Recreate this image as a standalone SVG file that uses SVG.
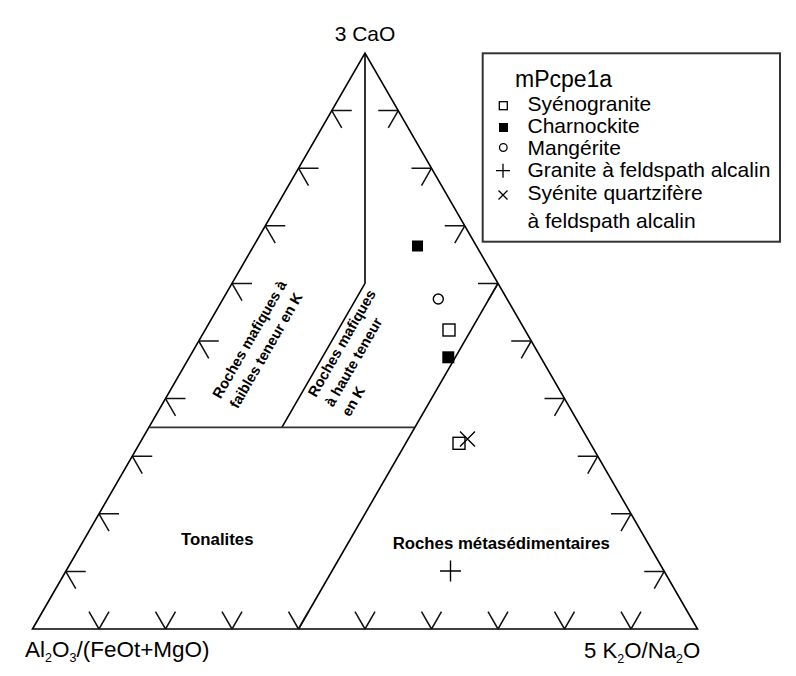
<svg xmlns="http://www.w3.org/2000/svg" xmlns:xlink="http://www.w3.org/1999/xlink" width="796" height="676" viewBox="0 0 796 676">
<style>
.ln{fill:none;stroke:#000;stroke-width:1.6}
.tk{fill:none;stroke:#111;stroke-width:1.5}
.ax{font-family:"Liberation Sans",Arial,sans-serif;font-size:21px;fill:#000}
.lg{font-family:"Liberation Sans",Arial,sans-serif;font-size:21px;fill:#000}
.rg{font-family:"Liberation Sans",Arial,sans-serif;font-weight:bold;font-size:16.8px;fill:#000}
.rr{font-family:"Liberation Sans",Arial,sans-serif;font-weight:bold;font-size:14.6px;fill:#000}
.mk{fill:none;stroke:#000;stroke-width:1.4}
.mf{fill:#000;stroke:none}
</style>
<defs>
<path id="tl" d="M0 0H20M0 0L10 17.32"/>
<path id="tr" d="M0 0H-20M0 0L-10 17.32"/>
<path id="tb" d="M0 0L-10 -17.32M0 0L10 -17.32"/>
</defs>
<rect width="796" height="676" fill="#fff"/>
<g id="connectors">
<path class="ln" d="M32.5 629L365 53L697.5 629Z"/>
<path class="ln" d="M365 53V283.4L281.9 427.4"/>
<path class="ln" d="M148.9 427.4H414.8" style="stroke:#333"/>
<path class="ln" d="M498 283.4L298.5 629"/>
<g class="tk">
<use xlink:href="#tl" x="331.75" y="110.6"/>
<use xlink:href="#tl" x="298.5" y="168.2"/>
<use xlink:href="#tl" x="265.25" y="225.8"/>
<use xlink:href="#tl" x="232" y="283.4"/>
<use xlink:href="#tl" x="198.75" y="341"/>
<use xlink:href="#tl" x="165.5" y="398.6"/>
<use xlink:href="#tl" x="132.25" y="456.2"/>
<use xlink:href="#tl" x="99" y="513.8"/>
<use xlink:href="#tl" x="65.75" y="571.4"/>
<use xlink:href="#tr" x="398.25" y="110.6"/>
<use xlink:href="#tr" x="431.5" y="168.2"/>
<use xlink:href="#tr" x="464.75" y="225.8"/>
<use xlink:href="#tr" x="498" y="283.4"/>
<use xlink:href="#tr" x="531.25" y="341"/>
<use xlink:href="#tr" x="564.5" y="398.6"/>
<use xlink:href="#tr" x="597.75" y="456.2"/>
<use xlink:href="#tr" x="631" y="513.8"/>
<use xlink:href="#tr" x="664.25" y="571.4"/>
<use xlink:href="#tb" x="99" y="629"/>
<use xlink:href="#tb" x="165.5" y="629"/>
<use xlink:href="#tb" x="232" y="629"/>
<use xlink:href="#tb" x="298.5" y="629"/>
<use xlink:href="#tb" x="365" y="629"/>
<use xlink:href="#tb" x="431.5" y="629"/>
<use xlink:href="#tb" x="498" y="629"/>
<use xlink:href="#tb" x="564.5" y="629"/>
<use xlink:href="#tb" x="631" y="629"/>
</g>
</g>
<g id="axis-labels">
<text class="ax" x="365" y="40.5" text-anchor="middle">3 CaO</text>
<text class="ax" x="25" y="657" style="font-size:22.5px">Al<tspan font-size="12.5" dy="5">2</tspan><tspan dy="-5">O</tspan><tspan font-size="12.5" dy="5">3</tspan><tspan dy="-5">/(FeOt+MgO)</tspan></text>
<text class="ax" x="584" y="658" style="font-size:22.2px">5 K<tspan font-size="12.5" dy="5">2</tspan><tspan dy="-5">O/Na</tspan><tspan font-size="12.5" dy="5">2</tspan><tspan dy="-5">O</tspan></text>
</g>
<g id="region-mafic-low" transform="translate(220.5 399.5) rotate(-60)">
<text class="rr" x="0" y="0">Roches mafiques à</text>
<text class="rr" x="0" y="20">faibles teneur en K</text>
</g>
<g id="region-mafic-high" transform="translate(316 398) rotate(-60)">
<text class="rr" x="0" y="0">Roches mafiques</text>
<text class="rr" x="0" y="19.5">à haute teneur</text>
<text class="rr" x="0" y="39">en K</text>
</g>
<g id="region-tonalites"><text class="rg" x="217.3" y="545" text-anchor="middle">Tonalites</text></g>
<g id="region-metased"><text class="rg" x="501.3" y="549" text-anchor="middle">Roches métasédimentaires</text></g>
<g id="data">
<rect class="mf" x="412" y="240.5" width="11" height="11"/>
<circle class="mk" cx="438.3" cy="299" r="5"/>
<rect class="mk" x="443" y="324" width="12" height="12"/>
<rect class="mf" x="442.3" y="351.3" width="12" height="12"/>
<rect class="mk" x="453" y="437.3" width="12" height="12"/>
<path class="mk" d="M460 431.5L475 446.5M475 431.5L460 446.5"/>
<path class="mk" d="M440 571H461M450.5 560.5V581.5"/>
</g>
<g id="legend">
<rect x="482.7" y="53.3" width="297.3" height="188.4" fill="none" stroke="#333" stroke-width="2"/>
<text class="lg" x="515" y="86.7" style="font-size:23px">mPcpe1a</text>
<rect class="mk" x="499.3" y="101.7" width="8" height="8" style="stroke-width:1.3"/>
<text class="lg" x="527.5" y="110.5">Syénogranite</text>
<rect class="mf" x="499" y="123" width="9" height="9"/>
<text class="lg" x="527.5" y="133">Charnockite</text>
<circle class="mk" cx="503.3" cy="147.5" r="3.8" style="stroke-width:1.3"/>
<text class="lg" x="527.5" y="155">Mangérite</text>
<path class="mk" d="M496 170.7H510M503 163.7V177.7" style="stroke-width:1.3"/>
<text class="lg" x="527.5" y="177.3">Granite à feldspath alcalin</text>
<path class="mk" d="M498.5 190.5L507.5 199.5M507.5 190.5L498.5 199.5" style="stroke-width:1.3"/>
<text class="lg" x="527.5" y="199.5">Syénite quartzifère</text>
<text class="lg" x="527.5" y="227.5">à feldspath alcalin</text>
</g>
</svg>
